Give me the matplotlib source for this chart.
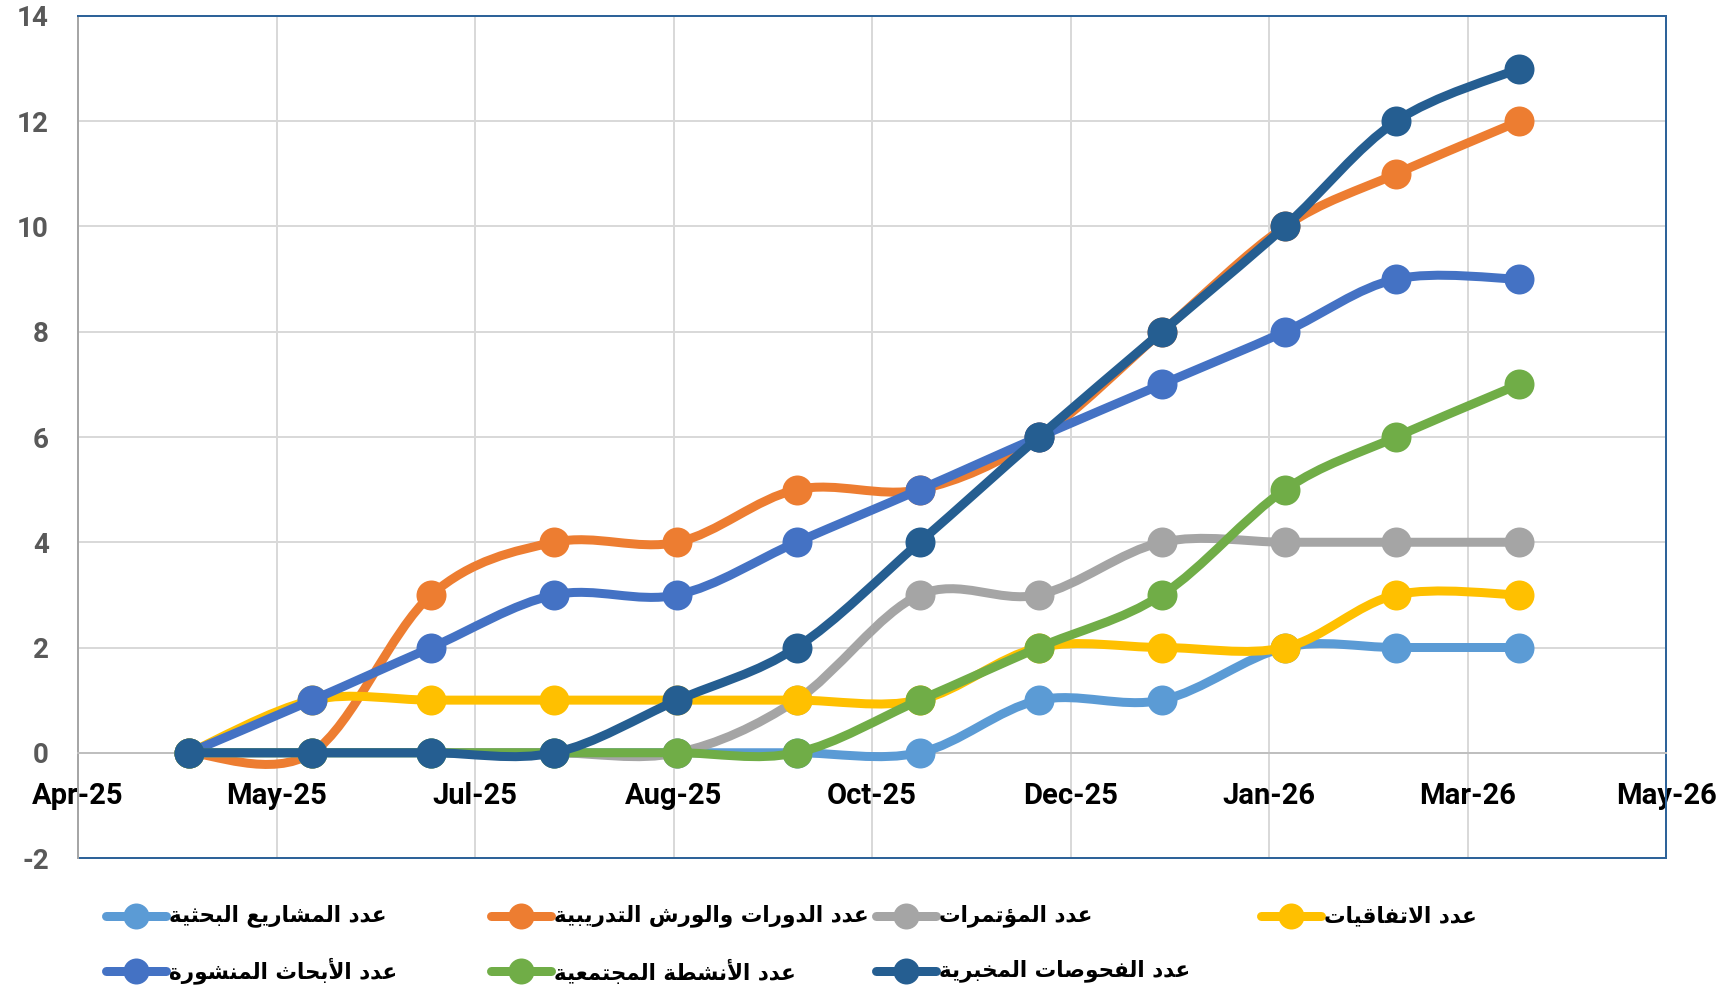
"""Cumulative activity counts, Apr-25 to Mar-26, smoothed lines in the Excel look."""

from datetime import date, timedelta

import matplotlib

matplotlib.use("Agg")
import matplotlib.dates as mdates  # noqa: E402
import matplotlib.pyplot as plt  # noqa: E402
from matplotlib.lines import Line2D  # noqa: E402
from matplotlib.patches import PathPatch, Rectangle  # noqa: E402
from matplotlib.path import Path  # noqa: E402

plt.rcParams["axes.unicode_minus"] = False

# ---- data -------------------------------------------------------------
months = [
    "2025-04-29", "2025-05-30", "2025-06-29", "2025-07-30", "2025-08-30",
    "2025-09-29", "2025-10-30", "2025-11-29", "2025-12-30", "2026-01-30",
    "2026-02-27", "2026-03-30",
]
research_projects = [0, 0, 0, 0, 0, 0, 0, 1, 1, 2, 2, 2]
training_courses = [0, 0, 3, 4, 4, 5, 5, 6, 8, 10, 11, 12]
conferences = [0, 0, 0, 0, 0, 1, 3, 3, 4, 4, 4, 4]
agreements = [0, 1, 1, 1, 1, 1, 1, 2, 2, 2, 3, 3]
published_papers = [0, 1, 2, 3, 3, 4, 5, 6, 7, 8, 9, 9]
community_events = [0, 0, 0, 0, 0, 0, 1, 2, 3, 5, 6, 7]
lab_tests = [0, 0, 0, 0, 1, 2, 4, 6, 8, 10, 12, 13]

series_names = [
    "عدد المشاريع البحثية",
    "عدد الدورات والورش التدريبية",
    "عدد المؤتمرات",
    "عدد الاتفاقيات",
    "عدد الأبحاث المنشورة",
    "عدد الأنشطة المجتمعية",
    "عدد الفحوصات المخبرية",
]
series_values = [
    research_projects, training_courses, conferences, agreements,
    published_papers, community_events, lab_tests,
]
COLORS = ["#5B9BD5", "#ED7D31", "#A5A5A5", "#FFC000", "#4472C4", "#70AD47", "#255E91"]

y_ticks = [-2, 0, 2, 4, 6, 8, 10, 12, 14]
x_start = date(2025, 4, 1)
x_step_days = 50
n_x_ticks = 9

# ---- minimal Arabic shaping (matplotlib has no complex text layout) ---
_ISO = {
    "آ": 0xFE81, "أ": 0xFE83, "ؤ": 0xFE85, "إ": 0xFE87, "ئ": 0xFE89,
    "ا": 0xFE8D, "ب": 0xFE8F, "ة": 0xFE93, "ت": 0xFE95, "ث": 0xFE99,
    "ج": 0xFE9D, "ح": 0xFEA1, "خ": 0xFEA5, "د": 0xFEA9, "ذ": 0xFEAB,
    "ر": 0xFEAD, "ز": 0xFEAF, "س": 0xFEB1, "ش": 0xFEB5, "ص": 0xFEB9,
    "ض": 0xFEBD, "ط": 0xFEC1, "ظ": 0xFEC5, "ع": 0xFEC9, "غ": 0xFECD,
    "ف": 0xFED1, "ق": 0xFED5, "ك": 0xFED9, "ل": 0xFEDD, "م": 0xFEE1,
    "ن": 0xFEE5, "ه": 0xFEE9, "و": 0xFEED, "ى": 0xFEEF, "ي": 0xFEF1,
}
_DUAL = set("ئبتثجحخسشصضطظعغفقكلمنهي")
_LAM_ALEF = {"آ": 0xFEF5, "أ": 0xFEF7, "إ": 0xFEF9, "ا": 0xFEFB}


def shape_ar(text: str) -> str:
    units = []
    i = 0
    while i < len(text):
        c = text[i]
        if c == "ل" and i + 1 < len(text) and text[i + 1] in _LAM_ALEF:
            units.append(("LA", text[i + 1]))
            i += 2
        else:
            units.append(("C", c))
            i += 1

    def joins_next(u):
        return u is not None and u[0] == "C" and u[1] in _DUAL

    def is_letter(u):
        return u is not None and (u[0] == "LA" or u[1] in _ISO)

    out = []
    for k, u in enumerate(units):
        prev = units[k - 1] if k > 0 else None
        nxt = units[k + 1] if k + 1 < len(units) else None
        p = joins_next(prev)
        if u[0] == "LA":
            out.append(chr(_LAM_ALEF[u[1]] + (1 if p else 0)))
            continue
        c = u[1]
        if c not in _ISO:
            out.append(c)
            continue
        n = c in _DUAL and is_letter(nxt)
        form = 3 if (p and n) else 1 if p else 2 if n else 0
        out.append(chr(_ISO[c] + form))
    return "".join(reversed(out))


# ---- Excel-like smoothed path (Catmull-Rom as cubic Bezier) ------------
def smooth_path(xs, ys):
    pts = list(zip(xs, ys))
    verts = [pts[0]]
    codes = [Path.MOVETO]
    for i in range(len(pts) - 1):
        p0 = pts[i - 1] if i > 0 else pts[i]
        p1, p2 = pts[i], pts[i + 1]
        p3 = pts[i + 2] if i + 2 < len(pts) else pts[i + 1]
        c1 = (p1[0] + (p2[0] - p0[0]) / 6, p1[1] + (p2[1] - p0[1]) / 6)
        c2 = (p2[0] - (p3[0] - p1[0]) / 6, p2[1] - (p3[1] - p1[1]) / 6)
        verts += [c1, c2, p2]
        codes += [Path.CURVE4] * 3
    return Path(verts, codes)


# ---- figure -----------------------------------------------------------
W, H = 1727, 988
fig = plt.figure(figsize=(W / 100, H / 100), dpi=100)
ax = fig.add_axes([78 / W, 1 - 858 / H, (1666 - 78) / W, (858 - 16) / H])

BLUE_FRAME = "#2E6399"
LINE_PX = 9
MARK_PX = 30
px = 72 / 100  # points per pixel

x_dates = [mdates.datestr2num(m) for m in months]

for i, (vals, color) in enumerate(zip(series_values, COLORS)):
    ax.add_patch(PathPatch(
        smooth_path(x_dates, vals), fill=False, edgecolor=color,
        linewidth=LINE_PX * px, capstyle="round", joinstyle="round",
        zorder=4 + 2 * i,
    ))
    ax.plot(x_dates, vals, linestyle="none", marker="o", color=color,
            markersize=MARK_PX * px, markeredgewidth=0, zorder=5 + 2 * i)

tick_dates = [x_start + timedelta(days=x_step_days * k) for k in range(n_x_ticks)]
ax.set_xlim(mdates.date2num(tick_dates[0]), mdates.date2num(tick_dates[-1]))
ax.set_xticks(mdates.date2num(tick_dates))
ax.xaxis.set_major_formatter(mdates.DateFormatter("%b-%y"))
ax.set_ylim(y_ticks[0], y_ticks[-1])
ax.set_yticks(y_ticks)

ax.grid(True, color="#D9D9D9", linewidth=2 * px)
ax.set_axisbelow(True)

for side in ("top", "right"):
    ax.spines[side].set_color(BLUE_FRAME)
    ax.spines[side].set_linewidth(2 * px)
ax.spines["bottom"].set_position(("data", 0))
ax.spines["bottom"].set_color("#BFBFBF")
ax.spines["bottom"].set_linewidth(2 * px)
ax.spines["left"].set_color("#A6A6A6")
ax.spines["left"].set_linewidth(2 * px)
ax.add_patch(Rectangle((0, 0), 1, 1, transform=ax.transAxes, fill=False,
                       edgecolor=BLUE_FRAME, linewidth=2 * px, clip_on=False,
                       zorder=2.4))

ax.tick_params(axis="x", length=0, pad=21, labelsize=21, labelcolor="black")
ax.tick_params(axis="y", length=0, pad=21, labelsize=20, labelcolor="#595959")
for lab in ax.get_xticklabels() + ax.get_yticklabels():
    lab.set_fontfamily(["Roboto", "DejaVu Sans"])
    lab.set_fontweight("bold")

# ---- legend, Excel layout: 4 evenly spaced columns, 2 rows -------------
col_x0, col_dx = 106, 385
row_y = [916, 971]
for i, (name, color) in enumerate(zip(series_names, COLORS)):
    x0 = col_x0 + (i % 4) * col_dx
    yy = 1 - row_y[i // 4] / H
    fig.add_artist(Line2D([x0 / W, (x0 + 60) / W], [yy, yy], transform=fig.transFigure,
                          color=color, linewidth=LINE_PX * px, solid_capstyle="round"))
    fig.add_artist(Line2D([(x0 + 30) / W], [yy], transform=fig.transFigure,
                          color=color, marker="o", markersize=26 * px, markeredgewidth=0))
    fig.text((x0 + 63) / W, yy, shape_ar(name), ha="left", va="center",
             fontsize=15.5, fontweight="bold", family=["DejaVu Sans"], color="black")

fig.savefig("out.png", dpi=100)
